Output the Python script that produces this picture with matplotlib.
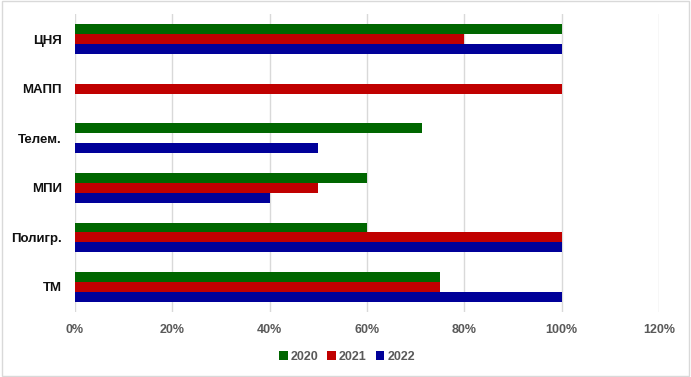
import numpy as np
import matplotlib.pyplot as plt
from matplotlib.ticker import PercentFormatter

categories = ['ЦНЯ', 'МАПП', 'Телем.', 'МПИ', 'Полигр.', 'ТМ']
years = ['2020', '2021', '2022']
v2020 = [1.00, 0.0, 0.714, 0.60, 0.60, 0.75]
v2021 = [0.80, 1.00, 0.0, 0.50, 1.00, 0.75]
v2022 = [1.00, 0.0, 0.50, 0.40, 1.00, 1.00]
colors = ['#006600', '#C00000', '#000099']

plt.rcParams['font.family'] = ['Liberation Sans', 'DejaVu Sans']

fig = plt.figure(figsize=(6.91, 3.77), dpi=100)
ax = fig.add_axes([0.1085, 0.173, 0.845, 0.789])

y = np.arange(len(categories))
h = 0.2
for i, (vals, yr) in enumerate(zip([v2020, v2021, v2022], years)):
    ax.barh(y + (i - 1) * h, vals, height=h, color=colors[i], label=yr, zorder=3)

ax.set_ylim(len(categories) - 0.5, -0.5)
ax.set_xlim(0, 1.2)
ax.set_xticks(np.arange(0, 1.21, 0.2))
ax.xaxis.set_major_formatter(PercentFormatter(1.0, decimals=0))
ax.set_yticks(y)
ax.set_yticklabels(categories, fontsize=9.5, fontweight='bold', color='#111111')
for lab in ax.get_xticklabels():
    lab.set_fontweight('bold')
ax.tick_params(axis='x', labelsize=9, colors='#595959', length=0, pad=9)
ax.tick_params(axis='y', length=0, pad=9.5)
ax.grid(axis='x', color='#d9d9d9', linewidth=1, zorder=0)
for s in ax.spines.values():
    s.set_visible(False)

handles, labels = ax.get_legend_handles_labels()
leg = fig.legend(handles, labels, loc='center', bbox_to_anchor=(0.502, 0.053), ncol=3,
                 frameon=False, handlelength=0.7, handleheight=0.7, handletextpad=0.25,
                 columnspacing=0.7, prop={'size': 9, 'weight': 'bold'})
for t in leg.get_texts():
    t.set_color('#595959')

fig.add_artist(plt.Rectangle((0.003, 0.003), 0.994, 0.994, transform=fig.transFigure,
                             fill=False, edgecolor='#d9d9d9', linewidth=1))

fig.savefig('out.png', dpi=100)
